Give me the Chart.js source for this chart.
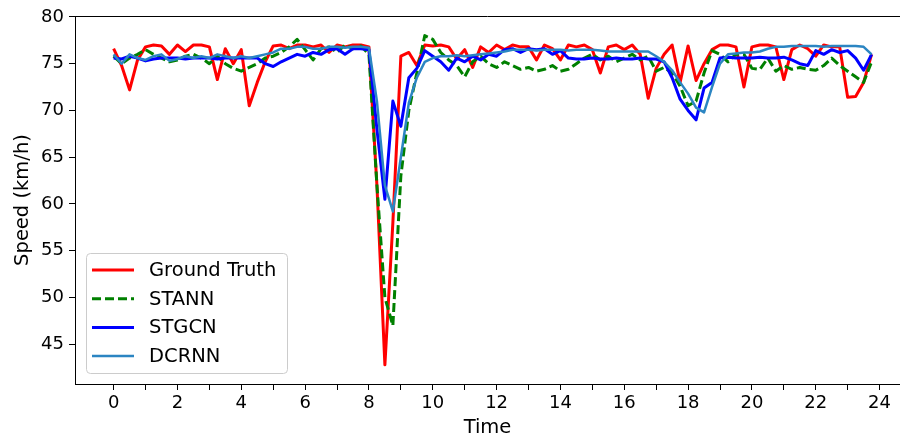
<!DOCTYPE html>
<html>
<head>
<meta charset="utf-8">
<script src="https://cdn.jsdelivr.net/npm/chart.js@4/dist/chart.umd.min.js"></script>
<style>
  html, body { margin: 0; padding: 0; background: #fff; }
  #wrap { width: 900px; height: 440px; }
</style>
</head>
<body>
<div id="wrap"><canvas id="speedChart" width="900" height="440"></canvas></div>
<script>
// time of day (hours), 15 minute steps
const times = [];
for (let i = 0; i < 96; i++) times.push(i / 4);

const groundTruth = [
  76.6, 74.8, 72.2, 75.4, 76.8, 77.0, 76.9, 76.0, 77.0, 76.3, 77.0, 77.0,
  76.8, 73.3, 76.6, 75.0, 76.5, 70.5, 73.0, 75.2, 76.9, 77.0, 76.6, 77.0,
  77.0, 76.8, 77.0, 76.2, 77.0, 76.8, 77.0, 77.0, 76.8, 62.0, 42.8, 58.0,
  75.8, 76.2, 74.8, 77.0, 76.9, 77.0, 76.8, 75.5, 76.5, 74.6, 76.8, 76.2,
  77.0, 76.5, 77.0, 76.8, 76.8, 75.4, 77.0, 76.6, 75.4, 77.0, 76.8, 77.0,
  76.5, 74.0, 76.8, 77.0, 76.5, 77.0, 76.0, 71.3, 74.5, 76.0, 77.0, 73.0,
  76.9, 73.2, 75.0, 76.5, 77.0, 77.0, 76.8, 72.5, 76.8, 77.0, 77.0, 76.8,
  73.3, 76.5, 77.0, 76.6, 75.8, 77.0, 76.8, 76.8, 71.4, 71.5, 73.0, 76.0
];

const stann = [
  75.8, 75.0, 75.6, 76.0, 76.5, 76.0, 75.6, 75.2, 75.4, 75.8, 76.0, 75.6,
  75.0, 75.8, 75.0, 74.5, 74.2, 74.6, 75.0, 75.6, 75.8, 76.2, 76.8, 77.6,
  76.5, 75.4, 76.6, 76.8, 76.2, 77.0, 76.6, 76.9, 76.0, 62.0, 50.0, 47.0,
  63.0, 70.0, 74.0, 78.0, 77.6, 76.2, 75.4, 74.8, 73.6, 75.2, 75.8, 75.0,
  74.6, 75.2, 74.8, 74.4, 74.6, 74.2, 74.4, 74.8, 74.2, 74.4, 75.0, 75.6,
  76.0, 75.4, 75.8, 75.2, 75.6, 76.0, 75.4, 75.8, 74.2, 74.6, 74.0, 72.6,
  70.5, 71.0, 74.0, 76.4, 76.0, 75.2, 76.0, 76.0, 74.5, 74.4, 75.6, 74.2,
  74.8, 74.4, 74.6, 74.4, 74.3, 74.8, 75.6, 74.8, 74.2, 73.6, 73.0, 75.2
];

const stgcn = [
  75.6, 75.5, 75.8, 75.6, 75.3, 75.5, 75.6, 75.6, 75.6, 75.5, 75.6, 75.6,
  75.6, 75.5, 75.6, 75.6, 75.6, 75.6, 75.6, 75.0, 74.7, 75.2, 75.6, 76.0,
  75.8, 76.2, 76.0, 76.5, 76.6, 76.0, 76.6, 76.6, 76.5, 68.0, 60.5, 71.0,
  68.3, 73.5, 74.5, 76.4, 75.8, 75.2, 74.3, 75.6, 75.2, 75.8, 75.4, 76.0,
  75.8, 76.5, 76.6, 76.2, 76.6, 76.5, 76.6, 76.0, 76.4, 75.6, 75.5, 75.5,
  75.6, 75.5, 75.5, 75.6, 75.5, 75.5, 75.6, 75.5, 75.5, 75.2, 73.5, 71.2,
  70.0, 69.0, 72.4, 73.0, 75.6, 75.7, 75.6, 75.6, 75.6, 75.7, 75.6, 75.6,
  75.7, 75.4, 75.0, 74.8, 76.4, 76.0, 76.5, 76.2, 76.4, 75.6, 74.3, 76.0
];

const dcrnn = [
  76.0, 75.0, 76.0, 75.6, 75.4, 75.8, 76.0, 75.3, 75.5, 75.8, 75.6, 75.8,
  75.6, 76.0, 75.8, 75.6, 75.8, 75.6, 75.8, 76.0, 76.2, 76.6, 76.6, 76.8,
  76.8, 76.6, 76.6, 76.8, 76.8, 76.7, 76.8, 76.8, 76.7, 71.0, 62.0, 59.2,
  65.0, 70.8, 73.5, 75.2, 75.6, 75.8, 75.8, 75.9, 75.8, 75.9, 76.0, 76.1,
  76.2, 76.3, 76.5, 76.5, 76.5, 76.4, 76.5, 76.5, 76.5, 76.4, 76.5, 76.5,
  76.5, 76.4, 76.3, 76.3, 76.3, 76.3, 76.3, 76.3, 75.8, 75.2, 74.3, 73.0,
  71.8, 70.3, 69.8, 72.5, 75.0, 76.0, 76.1, 76.2, 76.2, 76.3, 76.6, 76.8,
  76.8, 76.9, 76.9, 76.9, 76.9, 76.8, 76.9, 76.9, 76.9, 76.9, 76.8, 76.0
];

const seriesNames = ["Ground Truth", "STANN", "STGCN", "DCRNN"];
const xTicks = [0, 1, 2, 3, 4, 5, 6, 7, 8, 9, 10, 11, 12, 13, 14, 15, 16, 17, 18, 19, 20, 21, 22, 23, 24];
const yTicks = [45, 50, 55, 60, 65, 70, 75, 80];

Chart.defaults.font.family = "'DejaVu Sans', sans-serif";
Chart.defaults.font.size = 18;
Chart.defaults.color = "#000";

function points(values) {
  return values.map((v, i) => ({ x: times[i], y: v }));
}

// top spine, like matplotlib
const topSpine = {
  id: "topSpine",
  afterDraw(chart) {
    const { ctx, chartArea } = chart;
    ctx.save();
    ctx.strokeStyle = "#000";
    ctx.lineWidth = 1;
    ctx.beginPath();
    ctx.moveTo(chartArea.left, chartArea.top + 0.5);
    ctx.lineTo(chartArea.right, chartArea.top + 0.5);
    ctx.stroke();
    ctx.restore();
  }
};

// legend drawn inside the plot, lower left
const boxLegend = {
  id: "boxLegend",
  afterDraw(chart) {
    const { ctx, chartArea } = chart;
    const x = chartArea.left + 11;
    const w = 201, h = 120;
    const y = chartArea.bottom - 11 - h;
    ctx.save();
    ctx.beginPath();
    ctx.roundRect(x + 0.5, y + 0.5, w, h, 4);
    ctx.fillStyle = "rgba(255,255,255,0.8)";
    ctx.fill();
    ctx.strokeStyle = "#cccccc";
    ctx.lineWidth = 1;
    ctx.stroke();

    ctx.font = "19.5px 'DejaVu Sans', sans-serif";
    ctx.textBaseline = "middle";
    chart.data.datasets.forEach((ds, i) => {
      const rowY = y + 17 + i * 28.7;
      ctx.beginPath();
      ctx.setLineDash(ds.borderDash || []);
      ctx.strokeStyle = ds.borderColor;
      ctx.lineWidth = ds.borderWidth;
      ctx.moveTo(x + 6, rowY);
      ctx.lineTo(x + 48, rowY);
      ctx.stroke();
      ctx.setLineDash([]);
      ctx.fillStyle = "#000";
      ctx.fillText(ds.label, x + 63, rowY + 1);
    });
    ctx.restore();
  }
};

new Chart(document.getElementById("speedChart"), {
  type: "line",
  data: {
    datasets: [
      { label: seriesNames[0], data: points(groundTruth), borderColor: "#ff0000", borderWidth: 3, order: 4 },
      { label: seriesNames[1], data: points(stann), borderColor: "#008000", borderWidth: 3, borderDash: [9, 4], order: 3 },
      { label: seriesNames[2], data: points(stgcn), borderColor: "#0000ff", borderWidth: 3, order: 2 },
      { label: seriesNames[3], data: points(dcrnn), borderColor: "#2b85c2", borderWidth: 2.5, order: 1 }
    ]
  },
  options: {
    responsive: false,
    animation: false,
    layout: { padding: { top: 16, right: 0, left: 0, bottom: 0 } },
    elements: {
      point: { radius: 0 },
      line: { tension: 0, fill: false, borderJoinStyle: "round", borderCapStyle: "butt" }
    },
    plugins: {
      legend: { display: false },
      tooltip: { enabled: false }
    },
    scales: {
      x: {
        type: "linear",
        min: -1.21,
        max: 24.64,
        afterBuildTicks: (scale) => { scale.ticks = xTicks.map(v => ({ value: v })); },
        afterFit: (scale) => { scale.height = 56; },
        ticks: {
          autoSkip: false,
          maxRotation: 0,
          padding: 3,
          callback: (v) => (v % 2 === 0 ? String(v) : "")
        },
        grid: { drawOnChartArea: false, drawTicks: true, tickLength: 6, color: "#000" },
        border: { display: true, color: "#000", width: 1 },
        title: { display: true, text: "Time", font: { size: 19.5 }, padding: { top: 0, bottom: 0 } }
      },
      y: {
        min: 40.75,
        max: 80.1,
        afterBuildTicks: (scale) => { scale.ticks = yTicks.map(v => ({ value: v })); },
        afterFit: (scale) => { scale.width = 75; },
        ticks: { padding: 5 },
        grid: { drawOnChartArea: false, drawTicks: true, tickLength: 6, color: "#000" },
        border: { display: true, color: "#000", width: 1 },
        title: { display: true, text: "Speed (km/h)", font: { size: 19.5 }, padding: { top: 11, bottom: 0 } }
      }
    }
  },
  plugins: [topSpine, boxLegend]
});
</script>
</body>
</html>
